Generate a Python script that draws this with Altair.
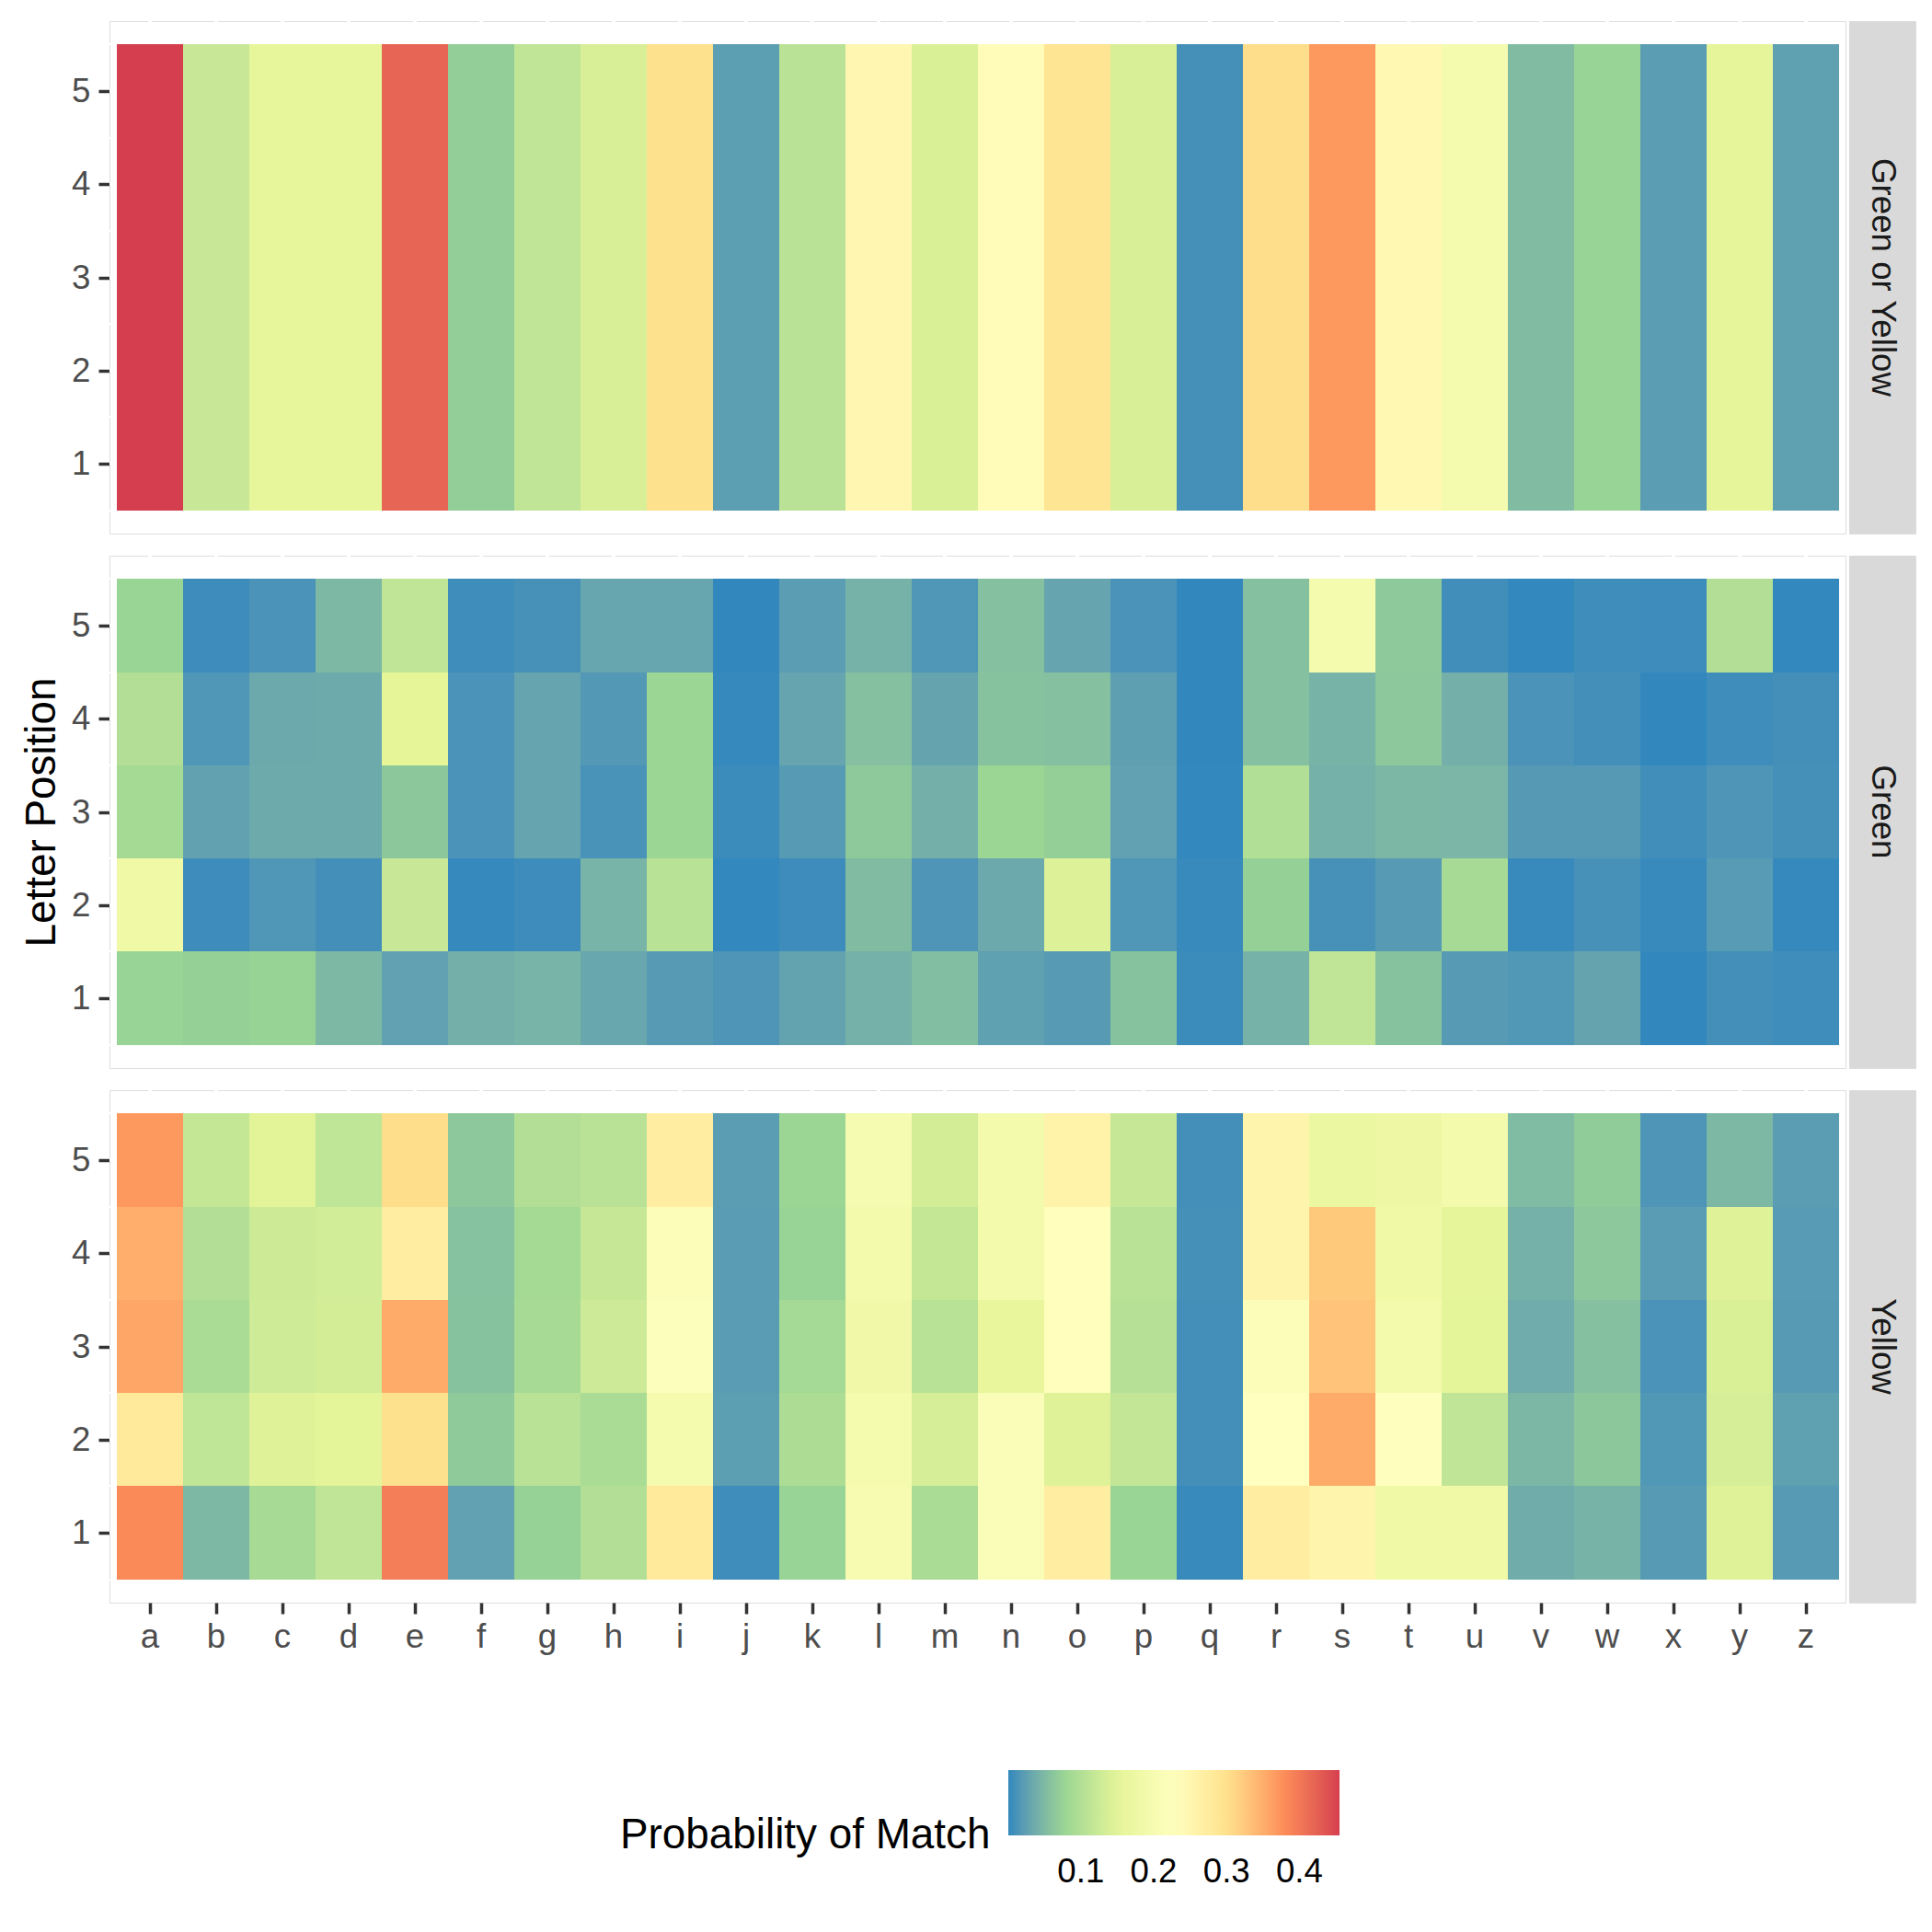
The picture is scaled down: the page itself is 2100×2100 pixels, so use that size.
import altair as alt
import pandas as pd

letters = list("abcdefghijklmnopqrstuvwxyz")
positions = [1, 2, 3, 4, 5]
panel_names = ["Green or Yellow", "Green", "Yellow"]
minor_breaks = [0.5, 1.5, 2.5, 3.5, 4.5, 5.5]
legend_breaks = [0.1, 0.2, 0.3, 0.4]

# ---- values (a..z) ----
green_or_yellow = [0.455, 0.122, 0.156, 0.156, 0.420, 0.070, 0.115, 0.138, 0.300, 0.023,
                   0.108, 0.248, 0.140, 0.238, 0.292, 0.138, 0.009, 0.305, 0.369, 0.245,
                   0.195, 0.053, 0.075, 0.022, 0.153, 0.025]

green_pos1 = [0.075, 0.072, 0.074, 0.049, 0.026, 0.041, 0.045, 0.032, 0.019, 0.014,
              0.028, 0.042, 0.054, 0.025, 0.019, 0.058, 0.004, 0.043, 0.114, 0.058,
              0.019, 0.016, 0.029, 0.0005, 0.008, 0.006]
green_pos2 = [0.180, 0.005, 0.015, 0.008, 0.122, 0.002, 0.005, 0.045, 0.106, 0.001,
              0.005, 0.053, 0.014, 0.034, 0.143, 0.015, 0.003, 0.072, 0.010, 0.019,
              0.089, 0.003, 0.010, 0.003, 0.020, 0.002]
green_pos3 = [0.088, 0.027, 0.035, 0.035, 0.063, 0.012, 0.030, 0.011, 0.078, 0.004,
              0.019, 0.065, 0.041, 0.078, 0.071, 0.026, 0.001, 0.099, 0.042, 0.048,
              0.047, 0.018, 0.018, 0.007, 0.014, 0.009]
green_pos4 = [0.100, 0.015, 0.034, 0.035, 0.152, 0.012, 0.030, 0.017, 0.079, 0.002,
              0.030, 0.056, 0.029, 0.058, 0.056, 0.024, 0.0005, 0.056, 0.044, 0.064,
              0.041, 0.012, 0.008, 0.0005, 0.006, 0.008]
green_pos5 = [0.076, 0.005, 0.012, 0.049, 0.115, 0.006, 0.010, 0.031, 0.031, 0.0005,
              0.022, 0.043, 0.015, 0.056, 0.030, 0.012, 0.0005, 0.056, 0.195, 0.065,
              0.007, 0.001, 0.006, 0.005, 0.100, 0.001]

yellow_pos1 = [0.382, 0.049, 0.089, 0.115, 0.395, 0.026, 0.073, 0.100, 0.280, 0.006,
               0.075, 0.200, 0.092, 0.213, 0.270, 0.076, 0.003, 0.270, 0.255, 0.180,
               0.180, 0.038, 0.044, 0.019, 0.146, 0.019]
yellow_pos2 = [0.280, 0.113, 0.146, 0.150, 0.300, 0.066, 0.108, 0.092, 0.195, 0.023,
               0.095, 0.195, 0.135, 0.212, 0.145, 0.117, 0.008, 0.228, 0.353, 0.225,
               0.115, 0.048, 0.063, 0.016, 0.136, 0.025]
yellow_pos3 = [0.357, 0.092, 0.128, 0.133, 0.353, 0.058, 0.089, 0.126, 0.220, 0.021,
               0.087, 0.185, 0.106, 0.160, 0.230, 0.103, 0.008, 0.215, 0.330, 0.190,
               0.150, 0.037, 0.056, 0.012, 0.140, 0.019]
yellow_pos4 = [0.350, 0.100, 0.127, 0.132, 0.270, 0.057, 0.088, 0.120, 0.215, 0.021,
               0.075, 0.190, 0.118, 0.190, 0.230, 0.107, 0.009, 0.255, 0.325, 0.180,
               0.155, 0.042, 0.064, 0.021, 0.145, 0.020]
yellow_pos5 = [0.370, 0.118, 0.148, 0.113, 0.305, 0.064, 0.100, 0.107, 0.270, 0.022,
               0.079, 0.198, 0.133, 0.190, 0.260, 0.120, 0.008, 0.255, 0.170, 0.175,
               0.190, 0.052, 0.067, 0.014, 0.049, 0.022]

tables = {
    "Green or Yellow": {p: green_or_yellow for p in positions},
    "Green": {1: green_pos1, 2: green_pos2, 3: green_pos3, 4: green_pos4, 5: green_pos5},
    "Yellow": {1: yellow_pos1, 2: yellow_pos2, 3: yellow_pos3, 4: yellow_pos4, 5: yellow_pos5},
}

rows = []
for name in panel_names:
    for p in positions:
        for letter, v in zip(letters, tables[name][p]):
            rows.append({"panel": name, "letter": letter, "pos": p, "prob": v})
df = pd.DataFrame(rows)
df["lo"] = df["pos"] - 0.5
df["hi"] = df["pos"] + 0.5

# ---- style ----
FONT = "Liberation Sans"
PANEL_W = 1887
PANEL_H = 557
STRIP_W = 72
AX_TXT = 36.67
TITLE_TXT = 45.83

spectral = ["#3288BD", "#99D594", "#E6F598", "#FFFFBF", "#FEE08B", "#FC8D59", "#D53E4F"]
vmin, vmax = float(df["prob"].min()), float(df["prob"].max())
stops = [vmin + i * (vmax - vmin) / 6 for i in range(7)]
color_scale = alt.Scale(domain=stops, range=spectral, interpolate="lab")

legend = alt.Legend(
    orient="none", legendX=555, legendY=1901, direction="horizontal",
    title="Probability of Match", titleOrient="left", titleLimit=1000,
    titleFont=FONT, titleFontSize=TITLE_TXT, titleFontWeight="normal", titleColor="black",
    titlePadding=19, titleAnchor="end", titleBaseline="middle",
    gradientLength=360, gradientThickness=71, gradientStrokeWidth=0,
    values=legend_breaks, format=".1f",
    labelFont=FONT, labelFontSize=AX_TXT, labelColor="black", labelOffset=22,
)

x_scale = alt.Scale(paddingInner=0, paddingOuter=0.1, round=True)
y_scale = alt.Scale(domain=[0.25, 5.75], nice=False, zero=False, round=True)


def make_panel(name, show_x, ytitle):
    sub = df[df["panel"] == name]
    if show_x:
        xaxis = alt.Axis(
            title=None, labels=True, ticks=True, domain=False, grid=False,
            bandPosition=0.5, labelAngle=0,
            labelFont=FONT, labelFontSize=AX_TXT, labelColor="#4D4D4D", labelPadding=7,
            tickColor="#333333", tickSize=12, tickWidth=3.5,
        )
    else:
        xaxis = None
    yaxis = alt.Axis(
        title=ytitle, values=positions, format="d", domain=False, grid=False,
        labelFont=FONT, labelFontSize=AX_TXT, labelColor="#4D4D4D", labelPadding=9,
        tickColor="#333333", tickSize=12, tickWidth=3.5,
        titleFont=FONT, titleFontSize=TITLE_TXT, titleFontWeight="normal",
        titleColor="black", titlePadding=8,
    )
    xgrid = alt.Chart(pd.DataFrame({"letter": letters})).mark_rule(
        color="white", strokeWidth=4
    ).encode(x=alt.X("letter:N", sort=letters, scale=x_scale, axis=xaxis))
    ymajor = alt.Chart(pd.DataFrame({"b": positions})).mark_rule(
        color="white", strokeWidth=4
    ).encode(y=alt.Y("b:Q", scale=y_scale, axis=yaxis))
    yminor = alt.Chart(pd.DataFrame({"b": minor_breaks})).mark_rule(
        color="white", strokeWidth=2
    ).encode(y=alt.Y("b:Q", scale=y_scale, axis=yaxis))
    tiles = alt.Chart(sub).mark_rect().encode(
        x=alt.X("letter:N", sort=letters, scale=x_scale, axis=xaxis),
        y=alt.Y("lo:Q", scale=y_scale, axis=yaxis),
        y2="hi:Q",
        color=alt.Color("prob:Q", scale=color_scale, legend=legend),
    )
    return alt.layer(xgrid, ymajor, yminor, tiles).properties(width=PANEL_W, height=PANEL_H)


def make_strip(name):
    sd = pd.DataFrame({"label": [name]})
    bg = alt.Chart(sd).mark_rect(color="#D9D9D9").encode(
        x=alt.value(0), x2=alt.value(STRIP_W), y=alt.value(0), y2=alt.value(PANEL_H)
    )
    txt = alt.Chart(sd).mark_text(
        angle=90, font=FONT, fontSize=AX_TXT, color="#1A1A1A", align="center", baseline="middle"
    ).encode(x=alt.value(STRIP_W / 2), y=alt.value(PANEL_H / 2), text="label:N")
    return alt.layer(bg, txt).properties(width=STRIP_W, height=PANEL_H)


row_charts = []
for i, name in enumerate(panel_names):
    panel = make_panel(name, show_x=(i == 2), ytitle=("Letter Position" if i == 1 else None))
    row_charts.append(alt.hconcat(panel, make_strip(name), spacing=0))

chart = alt.vconcat(*row_charts, spacing=18).properties(
    padding={"left": 14, "top": 12, "right": 5, "bottom": 5}
).configure_view(
    fill="#EBEBEB", stroke=None
).configure(
    background="white"
)

chart.save("out.html", embed_options={"renderer": "svg", "actions": False})
